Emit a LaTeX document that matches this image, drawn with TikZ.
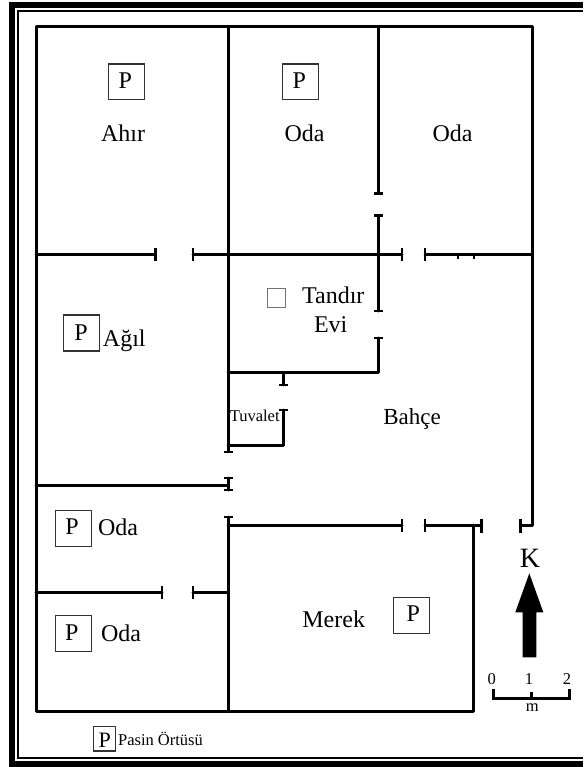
\documentclass[tikz,border=0pt]{standalone}
\usepackage{fontspec}
\setmainfont{Liberation Serif}
\tikzset{
  x=1pt,y=-1pt,
  wall/.style={draw=black,line width=3pt,line cap=round,line join=round},
  tick/.style={draw=black,line width=2.2pt},
  pbox/.style={draw=black!80,line width=1.4pt,fill=white},
  label/.style={anchor=base,inner sep=0pt,outer sep=0pt,font=\fontsize{24}{24}\selectfont},
  small/.style={anchor=base,inner sep=0pt,outer sep=0pt,font=\fontsize{16.5}{16.5}\selectfont},
}
\begin{document}
\begin{tikzpicture}
\useasboundingbox (0,0) rectangle (583,767);
% frame
\fill[black] (9,2) rectangle (583,8);
\fill[black] (9,761) rectangle (583,767);
\fill[black] (9,2) rectangle (15,767);
\fill[black] (17,9.7) rectangle (583,11.7);
\fill[black] (17,757) rectangle (583,759.3);
\fill[black] (17,9.7) rectangle (19,759.3);
% outer walls
\draw[wall] (36,254) -- (36,27) -- (532,27) -- (532,525) -- (520.5,525);
\draw[wall] (36,254) -- (36,711) -- (473,711) -- (473,525);
% horizontal at y=254
\draw[wall] (36,254) -- (155.5,254);
\draw[wall] (193,254) -- (402,254);
\draw[wall] (425,254) -- (532,254);
\draw[tick] (155.5,247.5) -- (155.5,260.5);
\draw[tick] (193,247.5) -- (193,260.5);
\draw[tick] (402.3,247.5) -- (402.3,260.5);
\draw[tick] (425,247.5) -- (425,260.5);
\draw[tick] (458,254) -- (458,259);
\draw[tick] (474.3,254) -- (474.3,259);
% vertical x=228
\draw[wall] (228,27) -- (228,451.7);
\draw[tick] (223.5,451.7) -- (232.5,451.7);
\draw[wall] (228,478) -- (228,490);
\draw[tick] (223.5,478) -- (232.5,478);
\draw[tick] (223.5,490) -- (232.5,490);
\draw[wall] (228,517) -- (228,711);
\draw[tick] (223.5,517) -- (232.5,517);
% vertical x=378.5
\draw[wall] (378.5,27) -- (378.5,193.5);
\draw[tick] (374,193.5) -- (383,193.5);
\draw[wall] (378.5,215.5) -- (378.5,311);
\draw[tick] (374,215.5) -- (383,215.5);
\draw[tick] (374,311) -- (383,311);
\draw[wall] (378.5,338) -- (378.5,372.5) -- (228,372.5);
\draw[tick] (374,338) -- (383,338);
% toilet
\draw[wall] (283.5,372.5) -- (283.5,385);
\draw[tick] (279,385) -- (288,385);
\draw[wall] (228,445.5) -- (283.5,445.5) -- (283.5,410);
\draw[tick] (279,410) -- (288,410);
% horizontals
\draw[wall] (36,485) -- (228,485);
\draw[wall] (228,525) -- (402,525);
\draw[tick] (402.3,518.5) -- (402.3,531.5);
\draw[wall] (425,525) -- (481.5,525);
\draw[tick] (425,518.5) -- (425,531.5);
\draw[tick] (481.5,518.5) -- (481.5,532.5);
\draw[tick] (520.5,518.5) -- (520.5,532.5);
\draw[wall] (36,592.7) -- (162,592.7);
\draw[tick] (162,586) -- (162,599);
\draw[wall] (193,592.7) -- (228,592.7);
\draw[tick] (193,586) -- (193,599);
% P boxes
\draw[pbox] (108.5,64) rectangle (144.7,99.7);
\node[label] (p1) at (125.3,88.7) {P};
\draw[pbox] (282.7,64) rectangle (318.3,99.7);
\node[label] (p2) at (299.3,88.7) {P};
\draw[pbox] (63.5,315) rectangle (99.5,351);
\node[label] (p3) at (81,340.3) {P};
\draw[pbox] (55.7,510.7) rectangle (91.3,546.7);
\node[label] (p4) at (72,534.7) {P};
\draw[pbox] (55.7,615.7) rectangle (91.3,651.3);
\node[label] (p5) at (71.7,640.7) {P};
\draw[pbox] (393.7,597.3) rectangle (429.7,633.3);
\node[label] (p6) at (413.3,621.7) {P};
\draw[pbox] (93.7,726.7) rectangle (115.3,751);
\node[label,font=\fontsize{22}{22}\selectfont] (p7) at (104.7,747.7) {P};
\draw[draw=black!55,line width=1.3pt] (267.5,288.3) rectangle (285.3,307.7);
% labels
\node[label] (ahir) at (123,141.7) {Ahır};
\node[label] (oda1) at (304.5,141.7) {Oda};
\node[label] (oda2) at (452.5,141.7) {Oda};
\node[label] (tandir) at (333.3,303.3) {Tandır};
\node[label] (evi) at (330.7,332.3) {Evi};
\node[label] (agil) at (124.3,346.7) {Ağıl};
\node[small] (tuvalet) at (254.7,421.7) {Tuvalet};
\node[label,font=\fontsize{23}{23}\selectfont] (bahce) at (412,424.3) {Bahçe};
\node[label] (oda3) at (118,535.7) {Oda};
\node[label] (oda4) at (121,641) {Oda};
\node[label] (merek) at (333.7,627.3) {Merek};
\node[small] (pasin) at (160.5,745.7) {Pasin Örtüsü};
% north arrow
\node[label,font=\fontsize{28}{28}\selectfont] (k) at (530,567.7) {K};
\fill[black] (529.3,573.3) -- (543.3,612.3) -- (536.3,612.3) -- (536.3,657.3) -- (522.7,657.3) -- (522.7,612.3) -- (515.3,612.3) -- cycle;
% scale
\draw[line width=3pt] (493,688.7) -- (493,698.3) -- (569.7,698.3) -- (569.7,688.7);
\draw[line width=3pt] (531.7,692.3) -- (531.7,698.3);
\node[small] (s0) at (491.7,684) {0};
\node[small] (s1) at (529,684) {1};
\node[small] (s2) at (567,684) {2};
\node[small] (m) at (532.3,711.7) {m};
\end{tikzpicture}
\end{document}
